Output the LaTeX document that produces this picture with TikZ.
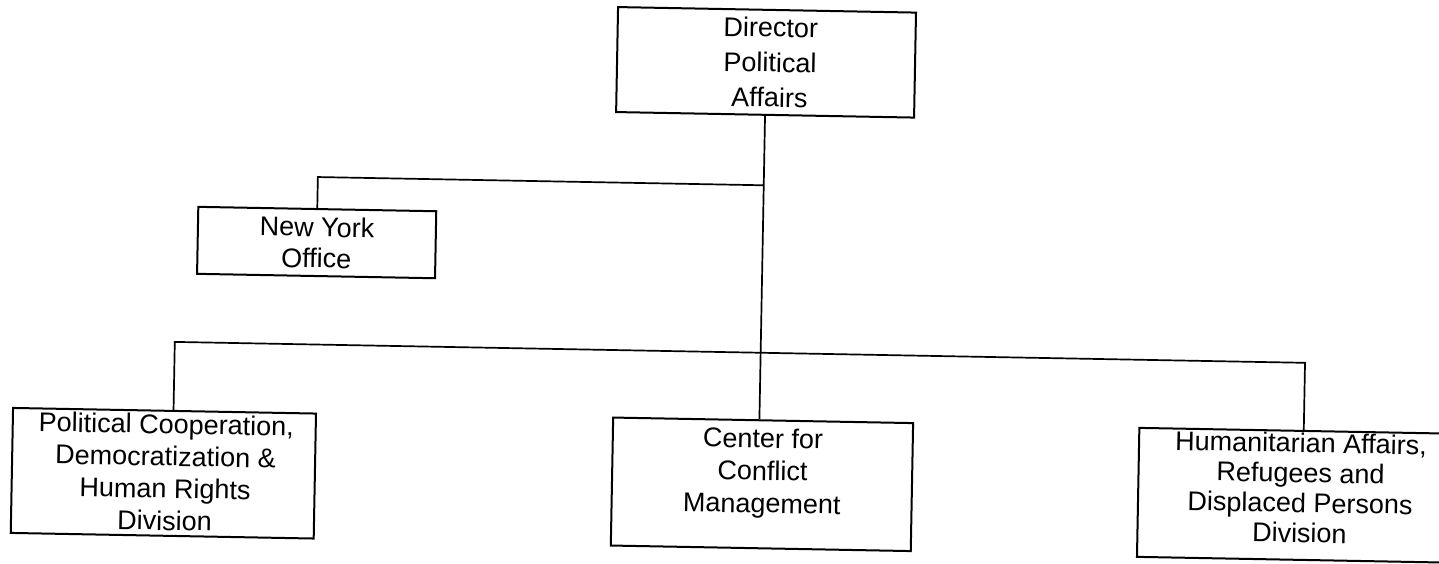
\documentclass[tikz,border=0pt]{standalone}
\usepackage{fontspec}
\setmainfont{Liberation Sans}
\begin{document}
\begin{tikzpicture}[x=1pt,y=1pt,
  unitbox/.style={draw=black, line width=2pt, rectangle, inner sep=0pt},
  unittext/.style={align=center, inner sep=0pt, text=black},
  link/.style={draw=black, line width=1.7pt}]
  % page frame
  \fill[white] (0,0) rectangle (1439,-563);
  \useasboundingbox (0,0) rectangle (1439,-563);
  \begin{scope}[rotate around={-1.06:(720,-281.5)}, transform shape]
    % unit boxes
    \node[unitbox, minimum width=298pt, minimum height=105pt] (dir) at (762,-61.5) {};
    \node[unitbox, minimum width=238pt, minimum height=67pt] (ny) at (316,-250) {};
    \node[unitbox, minimum width=303pt, minimum height=125pt] (pcd) at (167,-483.5) {};
    \node[unitbox, minimum width=300pt, minimum height=128pt] (cfm) at (765.7,-483.5) {};
    \node[unitbox, minimum width=324pt, minimum height=129pt] (hum) at (1304,-484.6) {};
    % unit names
    \node[unittext, font={\fontsize{27}{35}\selectfont}] (dirT) at (766,-61.4)
      {Director\\Political\\Affairs};
    \node[unittext, font={\fontsize{27}{31}\selectfont}] (nyT) at (316,-250)
      {New York\\Office};
    \node[unittext, font={\fontsize{27}{32.2}\selectfont}] (pcdT) at (169,-482.5)
      {Political Cooperation,\\Democratization \&\\Human Rights\\Division};
    \node[unittext, font={\fontsize{27}{32.5}\selectfont}] (cfmT) at (766,-472.5)
      {Center for\\Conflict\\Management};
    \node[unittext, font={\fontsize{27}{30}\selectfont}] (humT) at (1304,-477)
      {Humanitarian Affairs,\\Refugees and\\Displaced Persons\\Division};
    % junction points of the reporting lines
    \coordinate (nyJ) at (762,-184.5);
    \coordinate (barL) at (176,-352);
    \coordinate (barR) at (1306.5,-352);
    % reporting lines
    \draw[link] (dir.south) -- (dir.south |- cfm.north);
    \draw[link] (nyJ) -| (ny.north);
    \draw[link] (barL |- pcd.north) -- (barL) -- (barR) -- (barR |- hum.north);
  \end{scope}
\end{tikzpicture}
\end{document}
